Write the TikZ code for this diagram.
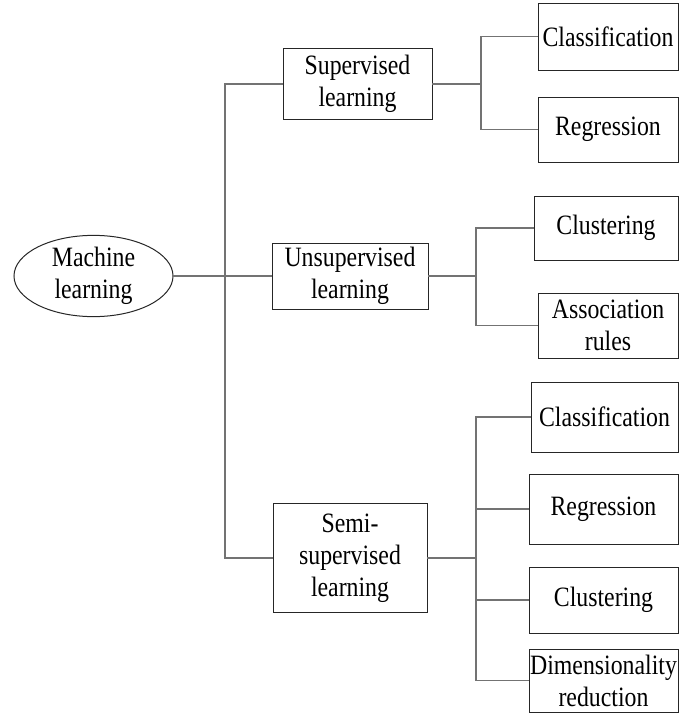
\documentclass[tikz,border=0pt]{standalone}
\usepackage{fontspec}
\setmainfont[FakeStretch=0.85]{Liberation Serif}
\usepackage{tikz}
\usetikzlibrary{positioning,calc,shapes.geometric}

\tikzset{
  box/.style={draw=black!85, line width=1pt, inner sep=0pt, outer sep=0pt, align=center,
    font=\fontsize{28}{32}\selectfont},
  link/.style={draw=black!55, line width=1.2pt}
}

\begin{document}
\begin{tikzpicture}[x=1pt,y=-1pt]
\useasboundingbox (0,0) rectangle (679,715);
\node[box, ellipse, minimum width=159pt, minimum height=81pt] (ML) at (93.5,276) {Machine\\learning};
\node[box, minimum width=149pt, minimum height=71pt] (Sup) at (357.5,84) {Supervised\\learning};
\node[box, minimum width=156pt, minimum height=66pt] (Uns) at (350,276) {Unsupervised\\learning};
\node[box, minimum width=154pt, minimum height=109pt] (Semi) at (350,558) {Semi-\\supervised\\learning};
% supervised learning
\node[box, minimum width=140pt, minimum height=67pt] (SupC) at (608,36.5) {Classification};
\node[box, minimum width=140pt, minimum height=65pt, below=27pt of SupC] (SupR) {Regression};
% unsupervised learning
\node[box, minimum width=144pt, minimum height=64pt] (UnsC) at (606,228) {Clustering};
\node[box, minimum width=140pt, minimum height=65pt] (UnsA) at (608,325.5) {Association\\rules};
% semi-supervised learning
\node[box, minimum width=147pt, minimum height=70pt] (SemiC) at (604.5,417) {Classification};
\node[box, minimum width=149pt, minimum height=70pt] (SemiR) at (603.5,509) {Regression};
\node[box, minimum width=149pt, minimum height=66pt, below=23pt of SemiR] (SemiK) {Clustering};
\node[box, minimum width=149pt, minimum height=63pt, below=16pt of SemiK] (SemiD) {Dimensionality\\reduction};
\coordinate (T) at (225,276);
\coordinate (B1) at (481,84);
\coordinate (B2) at (476,276);
\coordinate (B3) at (476,558);
\draw[link] (ML) -- (Uns);
\draw[link] (Sup.west) -| (T) |- (Semi.west);
\draw[link] (Sup) -- (B1);
\draw[link] (SupC.west) -| (B1) |- (SupR.west);
\draw[link] (Uns) -- (B2);
\draw[link] (UnsC.west) -| (B2) |- (UnsA.west);
\draw[link] (Semi) -- (B3);
\draw[link] (SemiC.west) -| (B3) |- (SemiD.west);
\draw[link] (B3 |- SemiR.west) -- (SemiR.west);
\draw[link] (B3 |- SemiK.west) -- (SemiK.west);
\end{tikzpicture}
\end{document}
